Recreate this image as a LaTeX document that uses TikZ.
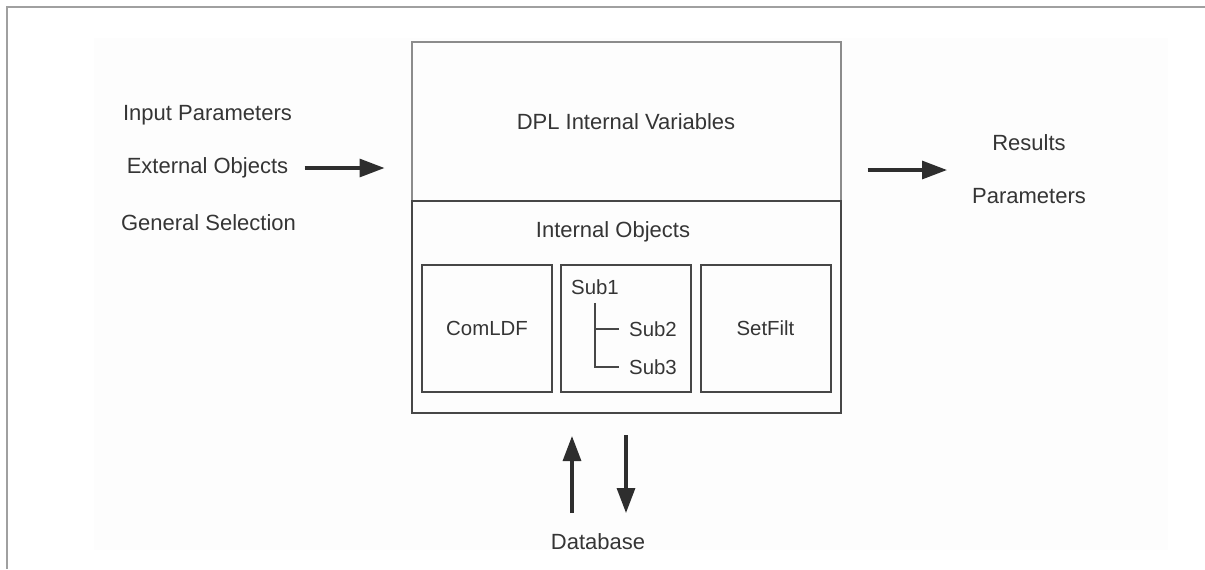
\documentclass[tikz,border=0pt]{standalone}
\usepackage{fontspec}
\setmainfont{Liberation Sans}
\usepackage{tikz}
\usetikzlibrary{arrows.meta}

\definecolor{boxgray}{HTML}{474747}
\definecolor{lightbox}{HTML}{8C8C8C}
\definecolor{textgray}{HTML}{353535}
\definecolor{arrowgray}{HTML}{2E2E2E}
\definecolor{framegray}{HTML}{A0A0A0}
\definecolor{panelgray}{HTML}{FDFDFD}

\begin{document}
\begin{tikzpicture}[x=0.5pt,y=-0.5pt]

  %Styles for picture
  \tikzset
  {
  txt/.style={text=textgray, inner sep=0pt, font=\fontsize{11}{13}\selectfont},
  subtxt/.style={text=textgray, inner sep=0pt, font=\fontsize{10.2}{12}\selectfont},
  bigbox/.style={rectangle, line width=1pt, minimum width=214.5pt, inner sep=0pt},
  subbox/.style={rectangle, draw=boxgray, line width=1pt, minimum width=65pt, minimum height=63.5pt, inner sep=0pt},
  bigarrow/.style={-{Triangle[length=12.5pt,width=9pt]}, line width=1.6pt, draw=arrowgray, fill=arrowgray},
  treeline/.style={draw=boxgray, line width=1pt},
  }

  \useasboundingbox (0,0) rectangle (1205,569);

  %Frame and panel
  \draw[framegray, line width=1pt] (7,569) -- (7,7) -- (1205,7);
  \fill[panelgray] (94,38) rectangle (1168,550);

  %Nodes
  \node[bigbox, draw=lightbox, minimum height=79.5pt, txt] (vars) at (626,121.5) {DPL Internal Variables};
  \node[bigbox, draw=boxgray, minimum height=106pt] (objs) at (626,307) {};
  \node[txt] (objtitle) at (613,232) {Internal Objects};
  \node[subbox, subtxt] (comldf) at (487,328.5) {ComLDF};
  \node[subbox] (subs) at (626,328.5) {};
  \node[subbox, subtxt] (setfilt) at (765.5,328.5) {SetFilt};
  \node[subtxt] (sub1) at (595,287) {Sub1};
  \node[subtxt] (sub2) at (653,329) {Sub2};
  \node[subtxt] (sub3) at (653,367) {Sub3};

  \node[txt] (inpar) at (207.5,115) {Input Parameters};
  \node[txt] (extobj) at (207.5,168) {External Objects};
  \node[txt] (gensel) at (208.5,223) {General Selection};
  \node[txt] (results) at (1029,143) {Results};
  \node[txt] (params) at (1029,196) {Parameters};
  \node[txt] (db) at (598,542) {Database};

  \coordinate (outpt) at (947,170);
  \coordinate (dbin) at (572,513);
  \coordinate (dbout) at (626,513);

  %Edges
  \draw[bigarrow, shorten <=8pt, shorten >=13pt] (extobj.east) -- (extobj.east -| vars.west);
  \draw[bigarrow, shorten <=13pt] (vars.east |- outpt) -- (outpt);
  \draw[bigarrow, shorten >=11pt] (dbin) -- (dbin |- objs.south);
  \draw[bigarrow, shorten <=10.5pt] (dbout |- objs.south) -- (dbout);
  \draw[treeline, shorten <=4pt, shorten >=5pt] (sub1.south) |- (sub3.west);
  \draw[treeline, shorten >=5pt] (sub1.south |- sub2.west) -- (sub2.west);
\end{tikzpicture}
\end{document}
